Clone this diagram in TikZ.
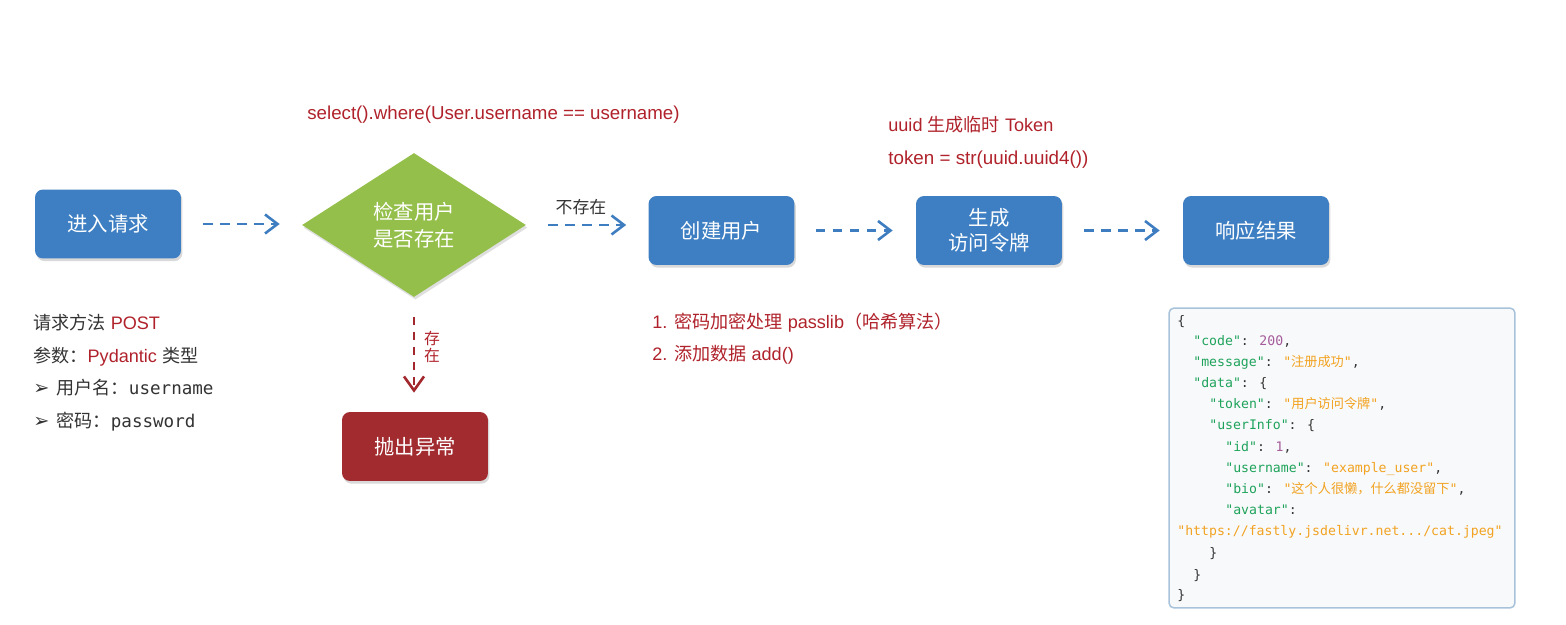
\documentclass[tikz,border=0pt]{standalone}
\usepackage{fontspec}
\setmainfont{Liberation Sans}
\newfontfamily\cjk{Noto Sans CJK SC}
\newfontfamily\jmono{DejaVu Sans Mono}
\newfontfamily\dvs{DejaVu Sans}
\usetikzlibrary{arrows.meta,shadows,shapes.geometric}
\definecolor{boxblue}{HTML}{3D7FC2}
\definecolor{dgreen}{HTML}{95BF4B}
\definecolor{boxred}{HTML}{A22B30}
\definecolor{annred}{HTML}{B0222B}
\definecolor{arrblue}{HTML}{3E7EC0}
\definecolor{arrred}{HTML}{A3282D}
\definecolor{txtgray}{HTML}{333333}
\definecolor{jkey}{HTML}{1FA35B}
\definecolor{jnum}{HTML}{A55C9A}
\definecolor{jstr}{HTML}{F2A321}
\definecolor{jpunct}{HTML}{333333}
\definecolor{jborder}{HTML}{A8C2DA}
\definecolor{jfill}{HTML}{F8F9FB}
\newcommand\jk[1]{\textcolor{jkey}{#1}}
\newcommand\jn[1]{\textcolor{jnum}{#1}}
\newcommand\js[1]{\textcolor{jstr}{#1}}
\newcommand\jz[1]{{\cjk #1}}
\newcommand\rd[1]{\textcolor{annred}{#1}}
\begin{document}
\begin{tikzpicture}[x=0.02cm,y=-0.02cm,
  procbox/.style={rounded corners=0.16cm, minimum width=2.92cm, minimum height=1.38cm,
    text=white, font=\cjk\fontsize{11.6}{14}\selectfont, align=center, inner sep=0pt,
    drop shadow={shadow xshift=0.8pt, shadow yshift=-1.5pt, opacity=0.3}},
  bluebox/.style={procbox, fill=boxblue},
  redbox/.style={procbox, fill=boxred},
  decision/.style={diamond, fill=dgreen, minimum width=4.48cm, minimum height=2.88cm,
    inner sep=0pt, text=white, align=center, font=\cjk\fontsize{11.6}{15.3}\selectfont,
    drop shadow={shadow xshift=0.8pt, shadow yshift=-1.5pt, opacity=0.25}},
  bluearrow/.style={arrblue, line width=0.052cm, dash pattern=on 0.19cm off 0.15cm,
    -{Straight Barb[length=0.25cm,width=0.38cm]}},
  redarrow/.style={arrred, line width=0.052cm, dash pattern=on 0.16cm off 0.14cm,
    -{Straight Barb[length=0.28cm,width=0.4cm]}},
  ann/.style={anchor=base west, inner sep=0pt, font=\fontsize{10.3}{12}\selectfont},
  redann/.style={ann, text=annred},
  grayann/.style={ann, text=txtgray},
  jl/.style={anchor=base west, inner sep=0pt, text=jpunct, font=\jmono\fontsize{7.5}{9}\selectfont}
]
\useasboundingbox (0,0) rectangle (1566,625);

% main flow
\node[bluebox] (req) at (108,224) {进入请求};
\node[decision] (chk) at (414,225) {检查用户\\是否存在};
\node[bluebox] (create) at (721.5,230.5) {创建用户};
\node[bluebox] (token) at (989,230.5) {生成\\访问令牌};
\node[bluebox] (resp) at (1256,230.5) {响应结果};
\node[redbox] (err) at (415,446.5) {抛出异常};

\draw[bluearrow] ([xshift=0.44cm]req.east) -- ([xshift=-0.44cm]req.east -| chk.west);
\draw[bluearrow] ([xshift=0.44cm]chk.east) -- ([xshift=-0.44cm]chk.east -| create.west);
\draw[bluearrow] ([xshift=0.42cm]create.east) -- ([xshift=-0.46cm]token.west);
\draw[bluearrow] ([xshift=0.44cm]token.east) -- ([xshift=-0.46cm]resp.west);
\draw[redarrow] ([yshift=-0.4cm]chk.south) -- ([yshift=0.38cm]chk.south |- err.north);

\node[text=txtgray, font=\cjk\fontsize{9.6}{11}\selectfont, inner sep=0pt] (lbl1) at (581,207) {不存在};
\node[text=annred, font=\cjk\fontsize{9}{9.3}\selectfont, align=center, inner sep=0pt] (lbl2) at (432,347) {存\\在};

% annotations
\node[redann, font=\fontsize{10.65}{12}\selectfont] (sel) at (307,120) {select().where(User.username == username)};
\node[redann] (uu1) at (888,132) {uuid {\cjk 生成临时} Token};
\node[redann, font=\fontsize{10.7}{12}\selectfont] (uu2) at (888,165) {token = str(uuid.uuid4())};
\node[redann] (pw1) at (652,328) {1. {\cjk 密码加密处理} passlib{\cjk （哈希算法）}};
\node[redann] (pw2) at (652,360) {2. {\cjk 添加数据} add()};

\node[grayann] (l1) at (33,329) {{\cjk 请求方法} \rd{POST}};
\node[grayann] (l2) at (33,362) {{\cjk 参数：}\rd{Pydantic} {\cjk 类型}};
\node[grayann] (l3) at (33,394) {{\dvs\fontsize{11}{12}\selectfont ➢}\hspace{4pt}{\cjk 用户名：}{\jmono\fontsize{10}{12}\selectfont username}};
\node[grayann] (l4) at (33,427) {{\dvs\fontsize{11}{12}\selectfont ➢}\hspace{4pt}{\cjk 密码：}{\jmono\fontsize{10}{12}\selectfont password}};

% JSON box
\node[draw=jborder, fill=jfill, line width=0.03cm, rounded corners=0.1cm,
  minimum width=6.92cm, minimum height=6cm, inner sep=0pt] (json) at (1342,458) {};
\node[jl] (j1) at (1177,325) {\{};
\node[jl] (j2) at (1193,345) {\jk{"code"}: \jn{200},};
\node[jl] (j3) at (1193,366) {\jk{"message"}: \js{"\jz{注册成功}"},};
\node[jl] (j4) at (1193,387) {\jk{"data"}: \{};
\node[jl] (j5) at (1209,408) {\jk{"token"}: \js{"\jz{用户访问令牌}"},};
\node[jl] (j6) at (1209,429) {\jk{"userInfo"}: \{};
\node[jl] (j7) at (1225,451) {\jk{"id"}: \jn{1},};
\node[jl] (j8) at (1225,472) {\jk{"username"}: \js{"example\_user"},};
\node[jl] (j9) at (1225,493) {\jk{"bio"}: \js{"\jz{这个人很懒，什么都没留下}"},};
\node[jl] (j10) at (1225,514) {\jk{"avatar"}:};
\node[jl] (j11) at (1177,535) {\js{"https://fastly.jsdelivr.net.../cat.jpeg"}};
\node[jl] (j12) at (1209,557) {\}};
\node[jl] (j13) at (1193,579) {\}};
\node[jl] (j14) at (1177,599) {\}};
\end{tikzpicture}
\end{document}
